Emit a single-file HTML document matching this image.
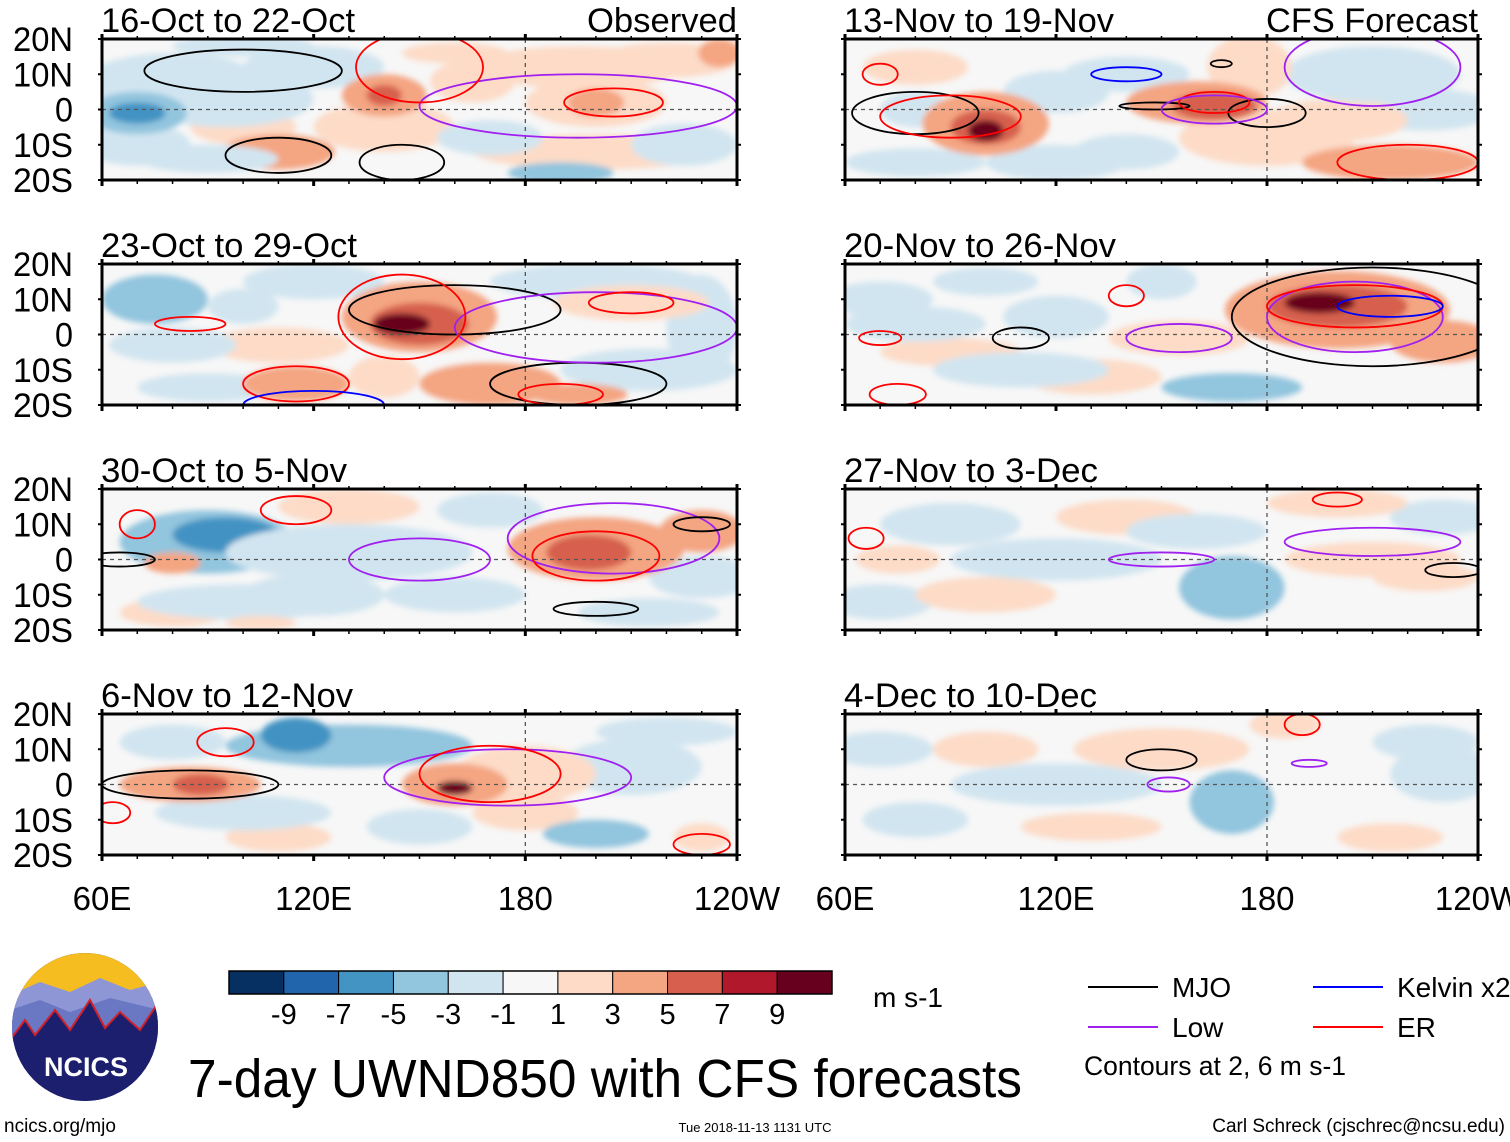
<!DOCTYPE html>
<html><head><meta charset="utf-8"><style>
html,body{margin:0;padding:0;background:#fff}
svg{display:block}
text{font-family:"Liberation Sans",sans-serif}
</style></head><body>
<svg id="chart" width="1510" height="1142" viewBox="0 0 1510 1142" xmlns="http://www.w3.org/2000/svg">
<defs>
<filter id="blur" x="-20%" y="-20%" width="140%" height="140%"><feGaussianBlur stdDeviation="3"/></filter>
<clipPath id="logoclip"><ellipse cx="85" cy="1027" rx="73" ry="74"/></clipPath>
</defs>
<g id="panels"></g>
<g id="legend-area"></g>
</svg>
<script>
const NS='http://www.w3.org/2000/svg';
const titles=['16-Oct to 22-Oct','23-Oct to 29-Oct','30-Oct to 5-Nov','6-Nov to 12-Nov','13-Nov to 19-Nov','20-Nov to 26-Nov','27-Nov to 3-Dec','4-Dec to 10-Dec'];
const titleWidths=[254,256,246,252,270,272,254,253];
const latTicks=['20N','10N','0','10S','20S'];
const latValues=[20,10,0,-10,-20];
const lonTicks=['60E','120E','180','120W'];
const lonValues=[60,120,180,240];
const cbarLabels=['-9','-7','-5','-3','-1','1','3','5','7','9'];
const palette=['#053061','#2166ac','#4393c3','#92c5de','#d1e5f0','#f7f7f7','#fddbc7','#f4a582','#d6604d','#b2182b','#67001f'];
// anomaly blobs: [lon, lat, rLon, rLat, value m/s]
const blobs0=[[80,8,25,8,-2],[120,12,20,6,-2],[70,-10,15,6,-2],[140,-5,20,7,2],[100,-5,15,5,2],[200,-12,35,5,2],[195,12,30,6,2],[170,-8,15,5,-2],[225,-10,15,6,-2],[95,3,25,8,-2],[70,-1,14,6,-5],[70,-1,8,3,-7],[140,4,12,6,4],[140,4,5,3,6],[110,-12,16,5,5],[165,8,12,6,3],[200,2,20,7,3],[200,2,8,4,5],[220,14,20,5,2],[190,-18,15,3,-4],[100,18,20,3,-3],[160,16,15,3,3],[235,16,6,4,5],[90,-14,20,4,-2]];
const blobs1=[[120,15,20,5,-2],[200,15,30,5,-2],[110,-3,20,5,2],[215,-10,25,6,-2],[90,-15,20,4,-2],[75,10,15,7,-5],[80,-3,18,5,-3],[100,8,10,5,-3],[230,2,10,15,-2],[150,5,22,10,5],[150,3,14,6,7],[145,3,8,3,10],[115,-14,15,5,5],[170,-14,20,6,4],[195,-17,14,3,5],[210,9,22,5,2],[140,-12,10,6,2]];
const blobs2=[[130,15,20,5,2],[120,-10,20,6,-2],[170,14,15,5,-2],[80,-15,15,4,2],[230,-5,15,6,-2],[90,5,25,9,-5],[95,7,15,5,-7],[130,2,35,8,-3],[200,3,25,9,4],[198,2,12,5,7],[100,-12,30,5,-2],[80,-1,8,3,4],[230,8,12,6,5],[160,-10,20,5,-2],[215,-15,20,4,-2],[105,-18,10,2,3]];
const blobs3=[[80,12,15,5,-2],[110,-15,15,4,2],[150,-12,15,5,-2],[220,15,20,4,-2],[180,-8,15,5,2],[130,11,35,6,-4],[115,14,10,5,-6],[100,-8,25,5,-2],[200,-14,15,4,-4],[210,5,20,8,-2],[85,0,20,5,5],[88,0,8,3,7],[180,3,20,8,3],[160,0,15,6,5],[160,-1,5,2,10],[230,-15,8,4,3]];
const blobs4=[[80,12,15,5,2],[120,5,15,6,-2],[80,-15,20,4,-2],[140,-12,15,5,-2],[225,0,20,6,-2],[200,-3,20,6,2],[140,10,18,5,-3],[210,10,25,8,-2],[80,0,10,5,-2],[120,-15,20,5,-2],[100,-4,18,9,5],[100,-5,10,5,7],[100,-6,5,3,10],[175,12,12,9,3],[180,-8,25,8,3],[160,2,20,6,5],[165,1,12,4,7],[215,-15,25,5,4]];
const blobs5=[[70,10,15,5,-2],[90,-5,20,4,2],[120,5,15,6,-2],[130,-12,20,5,2],[100,15,15,4,-2],[150,15,10,5,-3],[170,-15,20,4,-4],[80,3,20,5,-2],[110,-10,25,5,-2],[200,7,32,11,5],[230,-2,15,6,5],[200,8,20,6,7],[195,9,10,3,10],[155,-1,20,5,3]];
const blobs6=[[70,-12,15,5,-2],[100,-10,20,5,2],[140,12,20,5,2],[230,12,15,5,-2],[120,0,30,6,-2],[170,-8,15,9,-4],[90,10,20,6,-2],[160,8,20,5,-2],[200,16,20,4,3],[225,-5,15,4,3],[75,0,12,4,3],[210,0,25,5,2]];
const blobs7=[[70,10,15,5,-2],[100,10,15,5,2],[130,-12,20,4,2],[225,12,15,5,-2],[120,0,30,6,-2],[170,-5,12,9,-4],[80,-10,15,5,-2],[230,3,15,8,-2],[150,10,25,6,2],[185,17,10,4,3],[215,-15,15,4,2]];
// contours: [lon, lat, rLon, rLat, type]
const cont0=[[100,11,28,6,'mjo'],[110,-13,15,5,'mjo'],[145,-15,12,5,'mjo'],[195,1,45,9,'low'],[150,12,18,10,'er'],[205,2,14,4,'er']];
const cont1=[[160,7,30,7,'mjo'],[195,-14,25,6,'mjo'],[200,2,40,10,'low'],[145,5,18,12,'er'],[115,-14,15,5,'er'],[85,3,10,2,'er'],[210,9,12,3,'er'],[190,-17,12,3,'er'],[120,-20,20,4,'kelvin']];
const cont2=[[150,0,20,6,'low'],[205,6,30,10,'low'],[200,1,18,7,'er'],[115,14,10,4,'er'],[70,10,5,4,'er'],[65,0,10,2,'mjo'],[200,-14,12,2,'mjo'],[230,10,8,2,'mjo']];
const cont3=[[85,0,25,4,'mjo'],[175,2,35,8,'low'],[170,3,20,8,'er'],[95,12,8,4,'er'],[63,-8,5,3,'er'],[230,-17,8,3,'er']];
const cont4=[[80,-1,18,6,'mjo'],[180,-1,11,4,'mjo'],[148,1,10,1,'mjo'],[167,13,3,1,'mjo'],[90,-2,20,6,'er'],[165,2,10,3,'er'],[220,-15,20,5,'er'],[70,10,5,3,'er'],[140,10,10,2,'kelvin'],[165,0,15,4,'low'],[210,12,25,11,'low']];
const cont5=[[210,5,40,14,'mjo'],[110,-1,8,3,'mjo'],[205,5,25,10,'low'],[155,-1,15,4,'low'],[205,8,25,6,'er'],[75,-17,8,3,'er'],[70,-1,6,2,'er'],[140,11,5,3,'er'],[215,8,15,3,'kelvin']];
const cont6=[[150,0,15,2,'low'],[210,5,25,4,'low'],[200,17,7,2,'er'],[66,6,5,3,'er'],[233,-3,8,2,'mjo']];
const cont7=[[150,7,10,3,'mjo'],[152,0,6,2,'low'],[192,6,5,1,'low'],[190,17,5,3,'er']];
const allBlobs=[blobs0,blobs1,blobs2,blobs3,blobs4,blobs5,blobs6,blobs7];
const allCont=[cont0,cont1,cont2,cont3,cont4,cont5,cont6,cont7];
const ctype={mjo:'#000',low:'#a020f0',er:'#ff0000',kelvin:'#0000ff'};

function colorFor(v){let a=Math.abs(v);let k=a<=1?0:Math.ceil((a-1)/2);k=Math.min(k,5);return palette[5+Math.sign(v)*k];}
function mk(tag,attrs,parent){const e=document.createElementNS(NS,tag);for(const k in attrs)e.setAttribute(k,attrs[k]);if(parent)parent.appendChild(e);return e;}

const root=document.getElementById('panels');
const tops=[39,264,489,714];
for(let p=0;p<8;p++){
  const col=p<4?0:1,row=p%4;
  const X0=col?845:102,W=col?633:635,Y0=tops[row],H=141;
  const xs=lon=>X0+(lon-60)/180*W;
  const ys=lat=>Y0+(20-lat)/40*H;
  const g=mk('g',{},root);
  
  
  const cp=mk('clipPath',{id:'cp'+p},g);
  mk('rect',{x:X0,y:Y0,width:W,height:H},cp);
  const inner=mk('g',{'clip-path':'url(#cp'+p+')'},g);
  mk('rect',{x:X0,y:Y0,width:W,height:H,fill:'#f7f7f7'},inner);
  const fg=mk('g',{filter:'url(#blur)'},inner);
  allBlobs[p].forEach(b=>{
    const e=mk('ellipse',{cx:xs(b[0]),cy:ys(b[1]),rx:xs(60+b[2])-X0,ry:b[3]/40*H,fill:colorFor(b[4])},fg);
    
    
  });
  mk('line',{x1:X0,x2:X0+W,y1:ys(0),y2:ys(0),stroke:'#555','stroke-dasharray':'4,4','stroke-width':1.3},inner);
  mk('line',{x1:xs(180),x2:xs(180),y1:Y0,y2:Y0+H,stroke:'#555','stroke-dasharray':'4,4','stroke-width':1.3},inner);
  allCont[p].forEach(c=>{
    const e=mk('ellipse',{cx:xs(c[0]),cy:ys(c[1]),rx:xs(60+c[2])-X0,ry:c[3]/40*H,fill:'none',stroke:ctype[c[4]],'stroke-width':1.8},inner);
    
    
  });
  mk('rect',{x:X0,y:Y0,width:W,height:H,fill:'none',stroke:'#000','stroke-width':3},g);
  for(let lon=60;lon<=240;lon+=10){
    const big=(lon-60)%60===0;
    mk('line',{x1:xs(lon),x2:xs(lon),y1:Y0+H,y2:Y0+H+(big?6:4),stroke:'#000','stroke-width':big?3:1.5},g);
    mk('line',{x1:xs(lon),x2:xs(lon),y1:Y0,y2:Y0-(big?5:3),stroke:'#000','stroke-width':big?3:1.5},g);
  }
  latValues.forEach(l=>{
    mk('line',{x1:X0-4,x2:X0,y1:ys(l),y2:ys(l),stroke:'#000','stroke-width':2},g);
    mk('line',{x1:X0+W,x2:X0+W+4,y1:ys(l),y2:ys(l),stroke:'#000','stroke-width':2},g);
  });
  const t=mk('text',{x:X0-1,y:Y0-7,'font-size':34,fill:'#000',textLength:titleWidths[p],lengthAdjust:'spacingAndGlyphs'},g);
  t.textContent=titles[p];
  
  
  if(row===0){
    const rw=col?212:150;
    const r=mk('text',{x:X0+W-rw,y:Y0-7,'font-size':34,textLength:rw,lengthAdjust:'spacingAndGlyphs'},g);
    r.textContent=col?'CFS Forecast':'Observed';
    
    
  }
  if(col===0){
    latTicks.forEach((s,i)=>{
      const lt=mk('text',{x:73,y:ys(latValues[i])+12,'font-size':34,'text-anchor':'end',textLength:s.length===1?18:60,lengthAdjust:'spacingAndGlyphs'},g);
      lt.textContent=s;
      
      
    });
  }
  if(row===3){
    lonTicks.forEach((s,i)=>{
      const lx=mk('text',{x:xs(lonValues[i]),y:910,'font-size':33,'text-anchor':'middle'},g);
      lx.textContent=s;
      
      
    });
  }
}

// legend / footer
const L=document.getElementById('legend-area');
const cb=mk('g',{},L);


const cbX=229,cbW=603,cbY=971,cbH=23,bw=cbW/11;
palette.forEach((c,i)=>{mk('rect',{x:cbX+i*bw,y:cbY,width:bw,height:cbH,fill:c,stroke:'#000','stroke-width':1},cb);});
mk('rect',{x:cbX,y:cbY,width:cbW,height:cbH,fill:'none',stroke:'#000','stroke-width':1.5},cb);
cbarLabels.forEach((s,i)=>{const t=mk('text',{x:cbX+(i+1)*bw,y:1024,'font-size':29,'text-anchor':'middle'},cb);t.textContent=s;});
const unit=mk('text',{x:873,y:1007,'font-size':28},L);unit.textContent='m s-1';


const leg=[['MJO',1088,987,'mjo'],['Low',1088,1027,'low'],['Kelvin x2',1313,987,'kelvin'],['ER',1313,1027,'er']];
leg.forEach(l=>{
  const g=mk('g',{},L);
  
  
  mk('line',{x1:l[1],x2:l[1]+70,y1:l[2],y2:l[2],stroke:ctype[l[3]],'stroke-width':2},g);
  const t=mk('text',{x:l[1]+84,y:l[2]+10,'font-size':28},g);t.textContent=l[0];
});
const note=mk('text',{x:1084,y:1075,'font-size':27,textLength:262,lengthAdjust:'spacingAndGlyphs'},L);note.textContent='Contours at 2, 6 m s-1';


const ttl=mk('text',{x:188,y:1097,'font-size':54,textLength:834,lengthAdjust:'spacingAndGlyphs'},L);ttl.textContent='7-day UWND850 with CFS forecasts';


const logo=mk('g',{'clip-path':'url(#logoclip)'},L);

mk('rect',{x:10,y:950,width:150,height:160,fill:'#1b1f6e'},logo);
mk('rect',{x:10,y:950,width:150,height:50,fill:'#f5bd1f'},logo);
mk('path',{d:'M10,995 L40,982 L70,992 L100,978 L130,990 L160,982 L160,1045 L10,1045 Z',fill:'#8e96d6'},logo);
mk('path',{d:'M10,1010 L40,1000 L70,1012 L110,998 L160,1010 L160,1045 L10,1045 Z',fill:'#6a78c4'},logo);
mk('path',{d:'M10,1040 L25,1020 L35,1035 L55,1010 L70,1030 L90,1000 L105,1028 L120,1012 L140,1030 L160,1000 L160,1110 L10,1110 Z',fill:'#1b1f6e',stroke:'#d0202a','stroke-width':2},logo);
const lt=mk('text',{x:86,y:1076,'font-size':27,'font-weight':'bold',fill:'#fff','text-anchor':'middle'},logo);lt.textContent='NCICS';

const f1=mk('text',{x:4,y:1132,'font-size':19},L);f1.textContent='ncics.org/mjo';

const f2=mk('text',{x:755,y:1132,'font-size':13,'text-anchor':'middle'},L);f2.textContent='Tue 2018-11-13 1131 UTC';

const f3=mk('text',{x:1505,y:1132,'font-size':19,'text-anchor':'end'},L);f3.textContent='Carl Schreck (cjschrec@ncsu.edu)';

</script>
</body></html>
